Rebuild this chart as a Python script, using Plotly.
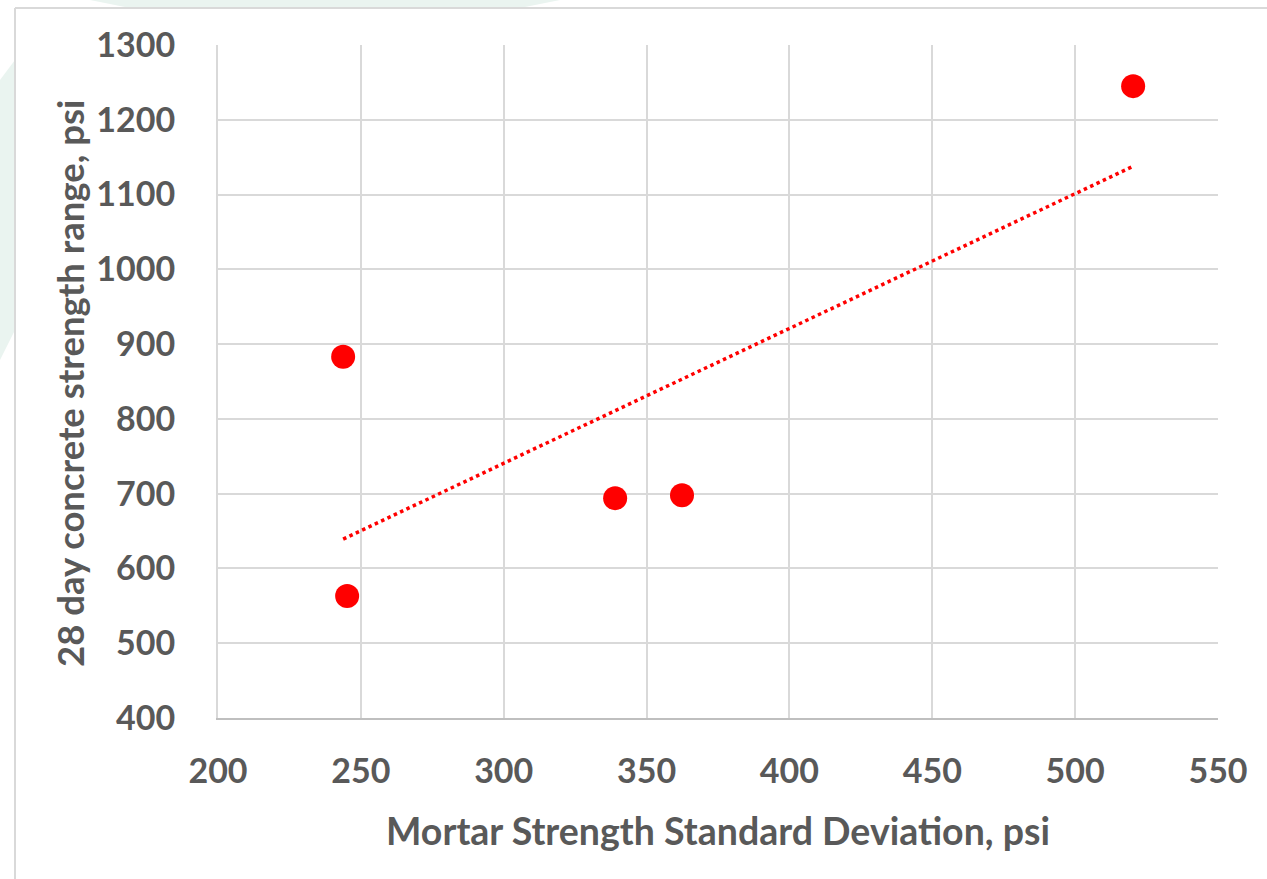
import numpy as np
import plotly.graph_objects as go

# Data
mortar_sd = [243.8, 245.2, 339.0, 362.4, 520.3]
concrete_range = [883, 563, 694, 698, 1245]

x_ticks = [200, 250, 300, 350, 400, 450, 500, 550]
y_ticks = [400, 500, 600, 700, 800, 900, 1000, 1100, 1200, 1300]

x_title = "Mortar Strength Standard Deviation, psi"
y_title = "28 day concrete strength range, psi"

# Linear trendline (least squares) across data extent
slope, intercept = np.polyfit(mortar_sd, concrete_range, 1)
tx = np.linspace(min(mortar_sd), max(mortar_sd), 50)
ty = slope * tx + intercept

TEXT = "#595959"
GRID = "#d9d9d9"
FONT = "Lato"

W, H = 1267, 879
L, R, T, B = 218, 49, 45, 161
pw, ph = W - L - R, H - T - B

def px_to_paper_x(px):
    return (px - L) / pw

def px_to_paper_y(py):
    return (H - B - py) / ph

fig = go.Figure()

fig.add_trace(go.Scatter(
    x=tx, y=ty, mode="lines",
    line=dict(color="#ff0000", width=3.5, dash="dot"),
    hoverinfo="skip", showlegend=False,
))
fig.add_trace(go.Scatter(
    x=mortar_sd, y=concrete_range, mode="markers",
    marker=dict(color="#ff0000", size=24, line=dict(width=0)),
    showlegend=False,
))

shapes = []
# faint watermark shapes outside the chart border
shapes.append(dict(type="path", xref="paper", yref="paper", layer="below",
                   path=f"M {px_to_paper_x(90)} {px_to_paper_y(0)} L {px_to_paper_x(560)} {px_to_paper_y(0)} "
                        f"L {px_to_paper_x(520)} {px_to_paper_y(8)} L {px_to_paper_x(130)} {px_to_paper_y(8)} Z",
                   fillcolor="#eaf4f0", line=dict(width=0)))
shapes.append(dict(type="path", xref="paper", yref="paper", layer="below",
                   path=f"M {px_to_paper_x(0)} {px_to_paper_y(80)} L {px_to_paper_x(15)} {px_to_paper_y(60)} "
                        f"L {px_to_paper_x(15)} {px_to_paper_y(330)} L {px_to_paper_x(0)} {px_to_paper_y(360)} Z",
                   fillcolor="#eaf4f0", line=dict(width=0)))
# chart border (top and left edges visible)
shapes.append(dict(type="line", xref="paper", yref="paper",
                   x0=px_to_paper_x(15), x1=px_to_paper_x(1275),
                   y0=px_to_paper_y(8), y1=px_to_paper_y(8),
                   line=dict(color=GRID, width=2)))
shapes.append(dict(type="line", xref="paper", yref="paper",
                   x0=px_to_paper_x(15), x1=px_to_paper_x(15),
                   y0=px_to_paper_y(8), y1=px_to_paper_y(890),
                   line=dict(color=GRID, width=2)))

fig.update_layout(
    width=W, height=H,
    margin=dict(l=L, r=R, t=T, b=B, autoexpand=False),
    paper_bgcolor="white", plot_bgcolor="white",
    font=dict(family=FONT, color=TEXT, size=34, weight="bold"),
    shapes=shapes,
    annotations=[
        dict(text=x_title, xref="paper", yref="paper",
             x=px_to_paper_x(718), y=px_to_paper_y(830),
             xanchor="center", yanchor="middle", showarrow=False,
             font=dict(family=FONT, size=37.5, color=TEXT, weight="bold")),
        dict(text=y_title, xref="paper", yref="paper",
             x=px_to_paper_x(70), y=px_to_paper_y(384),
             xanchor="center", yanchor="middle", showarrow=False, textangle=-90,
             font=dict(family=FONT, size=36.5, color=TEXT, weight="bold")),
    ],
)

fig.update_xaxes(
    range=[200, 550], tickvals=x_ticks, ticktext=[str(v) for v in x_ticks],
    showgrid=True, gridcolor=GRID, gridwidth=2,
    showline=True, linecolor="#bfbfbf", linewidth=2, mirror=False,
    zeroline=False, ticks="", ticklabelstandoff=22,
    tickfont=dict(family=FONT, size=34, color=TEXT, weight="bold"),
)
fig.update_yaxes(
    range=[400, 1300], tickvals=y_ticks, ticktext=[str(v) for v in y_ticks],
    showgrid=True, gridcolor=GRID, gridwidth=2,
    showline=True, linecolor=GRID, linewidth=2,
    zeroline=False, ticks="", ticklabelstandoff=34,
    tickfont=dict(family=FONT, size=34, color=TEXT, weight="bold"),
)

fig.write_html("out.html", config={"displayModeBar": False},
               post_script="document.body.style.margin='0px';")
